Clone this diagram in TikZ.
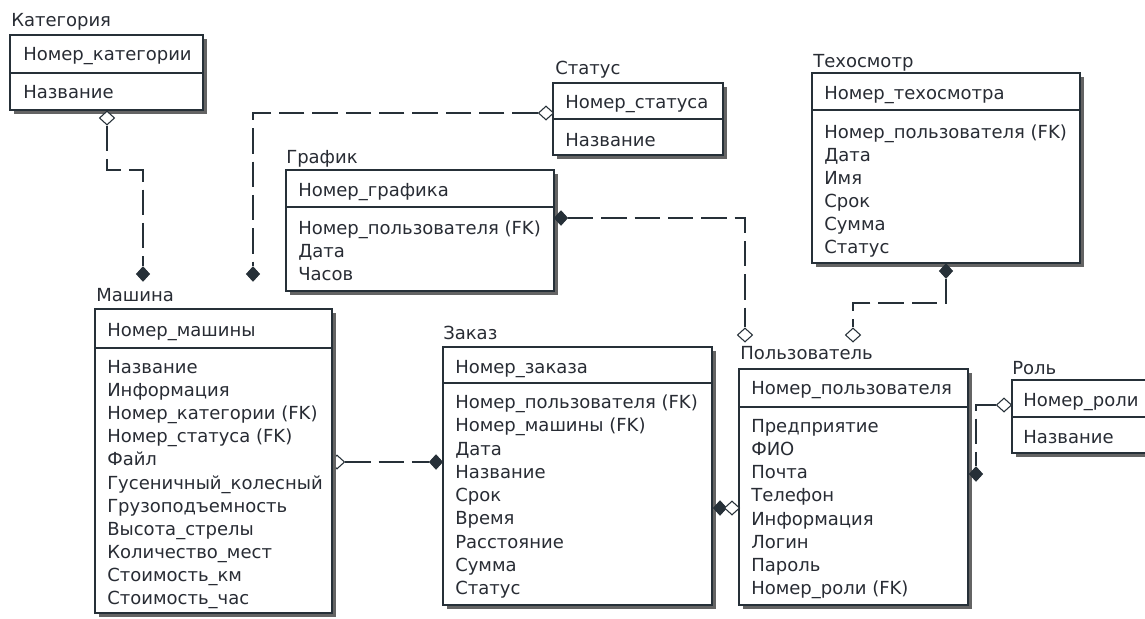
\documentclass[tikz,border=0pt]{standalone}
\usepackage{fontspec}
\setmainfont{DejaVu Sans}
\usetikzlibrary{fit,shapes.geometric,shadows}
\pgfdeclarelayer{back}
\pgfsetlayers{back,main}
\definecolor{linec}{RGB}{38,48,56}
\definecolor{textc}{RGB}{40,44,52}
\definecolor{shadc}{RGB}{100,100,100}
\tikzset{
  ebox/.style={draw=linec, line width=0.9pt, fill=white, inner sep=0pt,
    general shadow={shadow xshift=3pt, shadow yshift=-3pt, fill=shadc}},
  sepline/.style={draw=linec, line width=0.9pt},
  etext/.style={anchor=base west, yshift=-4.9pt, inner sep=0pt, text=textc,
    font=\fontsize{13.5pt}{16pt}\selectfont},
  rel/.style={draw=linec, line width=0.9pt, dash pattern=on 19pt off 6pt},
  hollowmk/.style={diamond, draw=linec, fill=white, line width=0.8pt, inner sep=0pt,
    minimum width=11.5pt, minimum height=10.5pt},
  solidmk/.style={diamond, fill=linec, draw=linec, line width=0.6pt, inner sep=0pt,
    minimum width=10pt, minimum height=11pt},
}
\begin{document}
\begin{tikzpicture}[x=0.75pt,y=-0.75pt]
\useasboundingbox (0,0) rectangle (1145,618);
\clip (0,0) rectangle (1145,618);

% Категория
\node[ebox, fit={(10,35) (203,110)}] (cat) {};
\draw[sepline] (10,73) -- (203,73);
\node[etext] (catT) at (11,20) {Категория};
\node[etext] (catK) at (23,54) {Номер\_категории};
\node[etext] (catA) at (23,92) {Название};

% Статус
\node[ebox, fit={(553,83) (723,155)}] (stat) {};
\draw[sepline] (553,119) -- (723,119);
\node[etext] (statT) at (555,68) {Статус};
\node[etext] (statK) at (565,102) {Номер\_статуса};
\node[etext] (statA) at (565,140) {Название};

% График
\node[ebox, fit={(286,170) (554,291)}] (graf) {};
\draw[sepline] (286,207) -- (554,207);
\node[etext] (grafT) at (286,157) {График};
\node[etext] (grafK) at (298,190) {Номер\_графика};
\foreach \t [count=\i from 0] in {{Номер\_пользователя (FK)},{Дата},{Часов}}
  \node[etext] (grafA\i) at (298,{228+23*\i}) {\t};

% Техосмотр
\node[ebox, fit={(812,73) (1080,263)}] (teh) {};
\draw[sepline] (812,110) -- (1080,110);
\node[etext] (tehT) at (813,61) {Техосмотр};
\node[etext] (tehK) at (824,93) {Номер\_техосмотра};
\foreach \t [count=\i from 0] in {{Номер\_пользователя (FK)},{Дата},{Имя},{Срок},{Сумма},{Статус}}
  \node[etext] (tehA\i) at (824,{132+23*\i}) {\t};

% Машина
\node[ebox, fit={(95,309) (332,613)}] (mash) {};
\draw[sepline] (95,348) -- (332,348);
\node[etext] (mashT) at (96,295) {Машина};
\node[etext] (mashK) at (107,330) {Номер\_машины};
\foreach \t [count=\i from 0] in {{Название},{Информация},{Номер\_категории (FK)},{Номер\_статуса (FK)},{Файл},{Гусеничный\_колесный},{Грузоподъемность},{Высота\_стрелы},{Количество\_мест},{Стоимость\_км},{Стоимость\_час}}
  \node[etext] (mashA\i) at (107,{367+23.1*\i}) {\t};

% Заказ
\node[ebox, fit={(443,347) (712,605)}] (zak) {};
\draw[sepline] (443,383) -- (712,383);
\node[etext] (zakT) at (443,333) {Заказ};
\node[etext] (zakK) at (455,367) {Номер\_заказа};
\foreach \t [count=\i from 0] in {{Номер\_пользователя (FK)},{Номер\_машины (FK)},{Дата},{Название},{Срок},{Время},{Расстояние},{Сумма},{Статус}}
  \node[etext] (zakA\i) at (455,{402+23.25*\i}) {\t};

% Пользователь
\node[ebox, fit={(739,369) (968,605)}] (pol) {};
\draw[sepline] (739,407) -- (968,407);
\node[etext] (polT) at (740,353) {Пользователь};
\node[etext] (polK) at (751,388) {Номер\_пользователя};
\foreach \t [count=\i from 0] in {{Предприятие},{ФИО},{Почта},{Телефон},{Информация},{Логин},{Пароль},{Номер\_роли (FK)}}
  \node[etext] (polA\i) at (751,{426+23.14*\i}) {\t};

% Роль
\node[ebox, fit={(1012,380) (1165,453)}] (role) {};
\draw[sepline] (1012,417) -- (1165,417);
\node[etext] (roleT) at (1012,368) {Роль};
\node[etext] (roleK) at (1023,400) {Номер\_роли};
\node[etext] (roleA) at (1023,437) {Название};

% relationship ends
\node[hollowmk] (catD)  at (107,118) {};
\node[solidmk]  (mashD1) at (143,274) {};
\node[hollowmk] (statD) at (546,113) {};
\node[solidmk]  (mashD2) at (253,274) {};
\node[solidmk]  (grafD) at (561,218) {};
\node[hollowmk] (polD1) at (745,335) {};
\node[solidmk]  (tehD)  at (946,271) {};
\node[hollowmk] (polD2) at (853,335) {};
\node[solidmk]  (zakD1) at (436,462) {};
\node[solidmk]  (zakD2) at (720,508) {};
\node[hollowmk] (polD3) at (732,508) {};
\node[hollowmk] (roleD) at (1004,405) {};
\node[solidmk]  (polD4) at (976,474) {};

% white sheet and relationship lines, kept under the entity boxes
\begin{pgfonlayer}{back}
  \fill[white] (0,0) rectangle (1145,618);
  \node[hollowmk] (mashD3) at (337,462) {};
  \coordinate (c1) at (107,170);
  \coordinate (c2) at (143,170);
  \draw[rel] (catD.south) -- (c1) -- (c2) -- (mashD1.north);
  \coordinate (c3) at (253,113);
  \draw[rel] (statD.west) -- (c3) -- (mashD2.north);
  \coordinate (c4) at (745,218);
  \draw[rel] (grafD.east) -- (c4) -- (polD1.north);
  \coordinate (c5) at (946,303);
  \coordinate (c6) at (853,303);
  \draw[rel] (tehD.south) -- (c5) -- (c6) -- (polD2.north);
  \draw[rel] (mashD3.east) -- (zakD1.west);
  \draw[rel] (zakD2.east) -- (polD3.west);
  \coordinate (c7) at (976,405);
  \draw[rel] (roleD.west) -- (c7) -- (polD4.north);
\end{pgfonlayer}
\end{tikzpicture}
\end{document}
